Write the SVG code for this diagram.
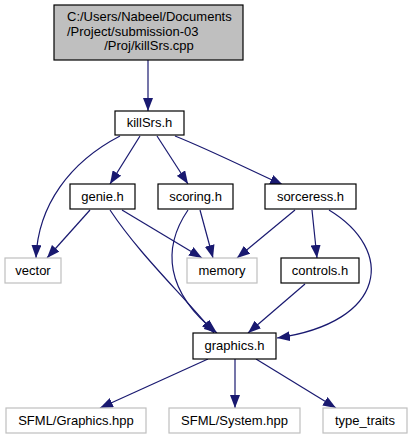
<svg xmlns="http://www.w3.org/2000/svg" width="412" height="440" viewBox="0 0 412 440">
<defs>
<marker id="a" markerWidth="13" markerHeight="10" refX="13" refY="5" orient="auto" markerUnits="userSpaceOnUse"><path d="M0,0 L13,5 L0,10 z" fill="#191970"/></marker>
</defs>
<style>
rect.n{fill:#fff;stroke:#000;stroke-width:1.2}
rect.x{fill:#fff;stroke:#bfbfbf;stroke-width:1.2}
rect.r{fill:#bfbfbf;stroke:#000;stroke-width:1.2}
text{font-family:"Liberation Sans",Arial,sans-serif;font-size:13px;fill:#000;text-anchor:middle}
.e path{fill:none;stroke:#191970;stroke-width:1.2;marker-end:url(#a)}
</style>
<rect width="412" height="440" fill="#fff"/>
<g class="e" id="edges">
<path d="M148,60 L148,111"/>
<path d="M120,136 C70,162 38,205 36,258"/>
<path d="M140,136 L110,184"/>
<path d="M157,136 L188,184"/>
<path d="M175,136 C210,150 250,170 283,185"/>
<path d="M90,210 L47,258"/>
<path d="M122,210 L202,258"/>
<path d="M110,210 C140,255 180,292 214,333"/>
<path d="M200,210 L213,258"/>
<path d="M188,210 C162,248 165,292 217,333"/>
<path d="M295,210 L237,258"/>
<path d="M312,210 L317,258"/>
<path d="M329,210 C395,250 388,322 277,338"/>
<path d="M305,284 L248,333"/>
<path d="M208,359 L100,408"/>
<path d="M235,359 L235,408"/>
<path d="M256,359 L336,408"/>
</g>
<g id="node-root"><rect class="r" x="54" y="5" width="189" height="55"/>
<text x="67" y="21" style="text-anchor:start">C:/Users/Nabeel/Documents</text>
<text x="67" y="36" style="text-anchor:start">/Project/submission-03</text>
<text x="149" y="50">/Proj/killSrs.cpp</text></g>
<g id="node-killSrs"><rect class="n" x="115" y="111" width="69" height="24"/><text x="149.5" y="127">killSrs.h</text></g>
<g id="node-genie"><rect class="n" x="70" y="184" width="65" height="25"/><text x="102.5" y="201">genie.h</text></g>
<g id="node-scoring"><rect class="n" x="158" y="184" width="75" height="25"/><text x="195.5" y="201">scoring.h</text></g>
<g id="node-sorceress"><rect class="n" x="265" y="184" width="91" height="25"/><text x="310.5" y="201">sorceress.h</text></g>
<g id="node-vector"><rect class="x" x="5" y="258" width="56" height="25"/><text x="33" y="275">vector</text></g>
<g id="node-memory"><rect class="x" x="187" y="258" width="70" height="25"/><text x="222" y="275">memory</text></g>
<g id="node-controls"><rect class="n" x="281" y="258" width="78" height="25"/><text x="320" y="275">controls.h</text></g>
<g id="node-graphics"><rect class="n" x="193" y="333" width="83" height="26"/><text x="234.5" y="350">graphics.h</text></g>
<g id="node-sfmlgraphics"><rect class="x" x="6" y="408" width="140" height="25"/><text x="76" y="425">SFML/Graphics.hpp</text></g>
<g id="node-sfmlsystem"><rect class="x" x="169" y="408" width="131" height="25"/><text x="234.5" y="425">SFML/System.hpp</text></g>
<g id="node-typetraits"><rect class="x" x="323" y="408" width="84" height="25"/><text x="365" y="425">type_traits</text></g>
</svg>
